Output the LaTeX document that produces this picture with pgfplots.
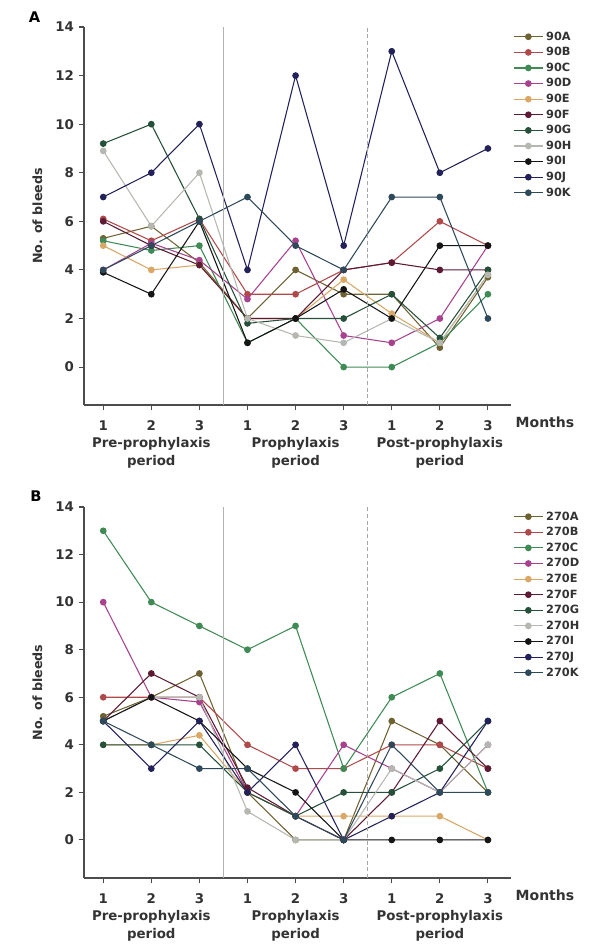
\documentclass[border=0pt]{standalone}
\usepackage{fontspec}
\setmainfont{DejaVu Sans}
\newfontfamily\labfont{DejaVu Sans Bold}
\usepackage{pgfplots}
\pgfplotsset{compat=1.18}

\definecolor{cA}{HTML}{6E6232}
\definecolor{cB}{HTML}{B04A4A}
\definecolor{cC}{HTML}{3F8A55}
\definecolor{cD}{HTML}{A8428F}
\definecolor{cE}{HTML}{D9A867}
\definecolor{cF}{HTML}{5C1A35}
\definecolor{cG}{HTML}{25503A}
\definecolor{cH}{HTML}{B5B8B0}
\definecolor{cI}{HTML}{151515}
\definecolor{cJ}{HTML}{22215A}
\definecolor{cK}{HTML}{2E4A5A}

\pgfplotsset{
  panel/.style={
    scale only axis, width=320.25pt,
    xmin=0.6, xmax=9.48, ymax=14,
    axis x line*=bottom, axis y line*=left,
    axis line style={-, line width=1.2pt, color=black!70},
    tick style={line width=0.8pt, color=black!70},
    major tick length=4pt, tick align=outside,
    xtick={1,...,9}, xticklabels={1,2,3,1,2,3,1,2,3},
    ytick={0,2,...,14},
    /pgf/number format/assume math mode=true,
    ticklabel style={font=\labfont\fontsize{10}{12}\selectfont, text=black!80},
    xticklabel style={yshift=-4pt},
    clip=false,
    legend cell align=left,
    legend style={at={(1.005,0.99)}, anchor=north west, draw=none, fill=none,
      inner sep=0pt, outer sep=0pt, row sep=2.7pt,
      font=\labfont\fontsize{8.5}{11}\selectfont, text=black!80,
      nodes={inner ysep=0pt, inner xsep=2pt, text height=7pt, text depth=2pt}},
    legend image code/.code={\draw[mark repeat=2, mark phase=2]
      plot coordinates {(0pt,0pt) (11pt,0pt) (22pt,0pt)};},
  },
  ser/.style={color=#1, line width=0.8pt, mark=*, mark size=2.1pt,
    mark options={fill=#1, draw=#1}},
}

% #1 = ymin of the panel
\newcommand{\periods}[1]{%
  \draw[black!30, line width=0.7pt] (axis cs:3.5,#1) -- (axis cs:3.5,14);
  \draw[black!35, line width=0.7pt, densely dashed] (axis cs:6.5,#1) -- (axis cs:6.5,14);
  \node[rotate=90, font=\labfont\fontsize{9.5}{12}\selectfont, text=black!80] at ([xshift=-35pt]rel axis cs:0,0.5) {No. of bleeds};
  \node[anchor=base west, font=\labfont\fontsize{10.5}{12}\selectfont, text=black!80] at ([yshift=-16.5pt]rel axis cs:1,0) {Months};
  \node[anchor=base, font=\labfont\fontsize{10}{12}\selectfont, text=black!80] at ([yshift=-31.5pt]axis cs:2,#1) {Pre-prophylaxis};
  \node[anchor=base, font=\labfont\fontsize{10}{12}\selectfont, text=black!80] at ([yshift=-45pt]axis cs:2,#1) {period};
  \node[anchor=base, font=\labfont\fontsize{10}{12}\selectfont, text=black!80] at ([yshift=-31.5pt]axis cs:5,#1) {Prophylaxis};
  \node[anchor=base, font=\labfont\fontsize{10}{12}\selectfont, text=black!80] at ([yshift=-45pt]axis cs:5,#1) {period};
  \node[anchor=base, font=\labfont\fontsize{10}{12}\selectfont, text=black!80] at ([yshift=-31.5pt]axis cs:8,#1) {Post-prophylaxis};
  \node[anchor=base, font=\labfont\fontsize{10}{12}\selectfont, text=black!80] at ([yshift=-45pt]axis cs:8,#1) {period};
}

\begin{document}
\begin{tikzpicture}
\useasboundingbox (0,0) rectangle (445.5pt,-708pt);

\node[font=\labfont\fontsize{11}{12}\selectfont] at (26pt,-12.75pt) {A};
\node[font=\labfont\fontsize{11}{12}\selectfont] at (27pt,-372pt) {B};

% Panel A
\begin{axis}[panel, at={(63pt,-303.75pt)}, anchor=south west,
    height=283.5pt, ymin=-1.56]
  \addplot[ser=cA] coordinates {(1,5.3) (2,5.8) (3,4.3) (4,2) (5,4) (6,3) (7,3) (8,0.8) (9,3.7)};
  \addlegendentry{90A}
  \addplot[ser=cB] coordinates {(1,6.1) (2,5.2) (3,6.1) (4,3) (5,3) (6,4) (7,4.3) (8,6) (9,5)};
  \addlegendentry{90B}
  \addplot[ser=cC] coordinates {(1,5.2) (2,4.8) (3,5) (4,1) (5,2) (6,0) (7,0) (8,1) (9,3)};
  \addlegendentry{90C}
  \addplot[ser=cD] coordinates {(1,4) (2,5.1) (3,4.4) (4,2.8) (5,5.2) (6,1.3) (7,1) (8,2) (9,5)};
  \addlegendentry{90D}
  \addplot[ser=cE] coordinates {(1,5) (2,4) (3,4.2) (4,2) (5,2) (6,3.6) (7,2.2) (8,1) (9,3.8)};
  \addlegendentry{90E}
  \addplot[ser=cF] coordinates {(1,6) (2,5) (3,4.2) (4,2) (5,2) (6,4) (7,4.3) (8,4) (9,4)};
  \addlegendentry{90F}
  \addplot[ser=cG] coordinates {(1,9.2) (2,10) (3,6.1) (4,1.8) (5,2) (6,2) (7,3) (8,1.2) (9,4)};
  \addlegendentry{90G}
  \addplot[ser=cH] coordinates {(1,8.9) (2,5.8) (3,8) (4,2) (5,1.3) (6,1) (7,2) (8,1) (9,3.8)};
  \addlegendentry{90H}
  \addplot[ser=cI] coordinates {(1,3.9) (2,3) (3,6) (4,1) (5,2) (6,3.2) (7,2) (8,5) (9,5)};
  \addlegendentry{90I}
  \addplot[ser=cJ] coordinates {(1,7) (2,8) (3,10) (4,4) (5,12) (6,5) (7,13) (8,8) (9,9)};
  \addlegendentry{90J}
  \addplot[ser=cK] coordinates {(1,4) (2,5) (3,6) (4,7) (5,5) (6,4) (7,7) (8,7) (9,2)};
  \addlegendentry{90K}
  \periods{-1.56}
\end{axis}

% Panel B
\begin{axis}[panel, at={(63pt,-658.5pt)}, anchor=south west,
    height=278.25pt, ymin=-1.6]
  \addplot[ser=cA] coordinates {(1,5.2) (2,6) (3,7) (4,2) (5,0) (6,0) (7,5) (8,4) (9,2)};
  \addlegendentry{270A}
  \addplot[ser=cB] coordinates {(1,6) (2,6) (3,6) (4,4) (5,3) (6,3) (7,4) (8,4) (9,3)};
  \addlegendentry{270B}
  \addplot[ser=cC] coordinates {(1,13) (2,10) (3,9) (4,8) (5,9) (6,3) (7,6) (8,7) (9,2)};
  \addlegendentry{270C}
  \addplot[ser=cD] coordinates {(1,10) (2,6) (3,5.8) (4,2) (5,1) (6,4) (7,3) (8,2) (9,4)};
  \addlegendentry{270D}
  \addplot[ser=cE] coordinates {(1,4) (2,4) (3,4.4) (4,2) (5,1) (6,1) (7,1) (8,1) (9,0)};
  \addlegendentry{270E}
  \addplot[ser=cF] coordinates {(1,5) (2,7) (3,6) (4,2.2) (5,1) (6,0) (7,2) (8,5) (9,3)};
  \addlegendentry{270F}
  \addplot[ser=cG] coordinates {(1,4) (2,4) (3,4) (4,2) (5,1) (6,2) (7,2) (8,3) (9,5)};
  \addlegendentry{270G}
  \addplot[ser=cH] coordinates {(1,5) (2,6) (3,6) (4,1.2) (5,0) (6,0) (7,3) (8,2) (9,4)};
  \addlegendentry{270H}
  \addplot[ser=cI] coordinates {(1,5) (2,6) (3,5) (4,3) (5,2) (6,0) (7,0) (8,0) (9,0)};
  \addlegendentry{270I}
  \addplot[ser=cJ] coordinates {(1,5) (2,3) (3,5) (4,2) (5,4) (6,0) (7,1) (8,2) (9,5)};
  \addlegendentry{270J}
  \addplot[ser=cK] coordinates {(1,5) (2,4) (3,3) (4,3) (5,1) (6,0) (7,4) (8,2) (9,2)};
  \addlegendentry{270K}
  \periods{-1.6}
\end{axis}
\end{tikzpicture}
\end{document}
